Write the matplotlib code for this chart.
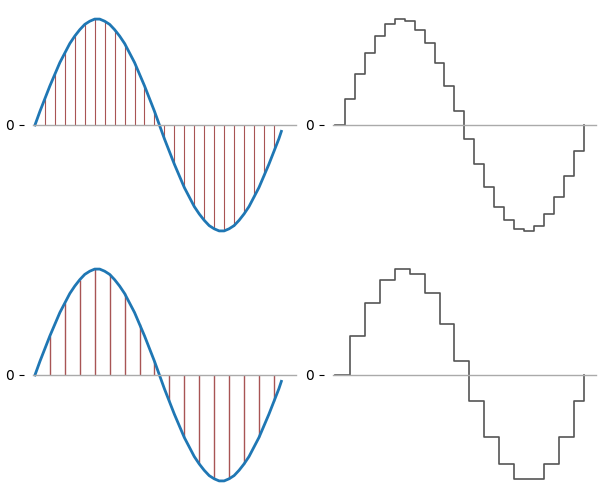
import matplotlib
matplotlib.use("Agg")
import matplotlib.pyplot as plt
import numpy as np

# continuous signal, read every 0.02 (plus the last point at 0.99)
curve_t = list(np.round(np.arange(0, 1.0, 0.02), 2)) + [0.99]
curve_y = [0.00, 0.13, 0.25, 0.37, 0.48, 0.59, 0.68, 0.77, 0.84, 0.90,
           0.95, 0.98, 1.00, 1.00, 0.98, 0.95, 0.90, 0.84, 0.77, 0.68,
           0.59, 0.48, 0.37, 0.25, 0.13, 0.00, -0.13, -0.25, -0.37, -0.48,
           -0.59, -0.68, -0.77, -0.84, -0.90, -0.95, -0.98, -1.00, -1.00, -0.98,
           -0.95, -0.90, -0.84, -0.77, -0.68, -0.59, -0.48, -0.37, -0.25, -0.13,
           -0.06]

# fine sampling (every 0.04), closed with a zero at t=1
fine_t = [0.00, 0.04, 0.08, 0.12, 0.16, 0.20, 0.24, 0.28, 0.32, 0.36, 0.40, 0.44, 0.48,
          0.52, 0.56, 0.60, 0.64, 0.68, 0.72, 0.76, 0.80, 0.84, 0.88, 0.92, 0.96, 1.00]
fine_y = [0.00, 0.25, 0.48, 0.68, 0.84, 0.95, 1.00, 0.98, 0.90, 0.77, 0.59, 0.37, 0.13,
          -0.13, -0.37, -0.59, -0.77, -0.90, -0.98, -1.00, -0.95, -0.84, -0.68, -0.48, -0.25, 0.00]

# coarse sampling (every 0.06), closed with a zero at t=1
coarse_t = [0.00, 0.06, 0.12, 0.18, 0.24, 0.30, 0.36, 0.42, 0.48,
            0.54, 0.60, 0.66, 0.72, 0.78, 0.84, 0.90, 0.96, 1.00]
coarse_y = [0.00, 0.37, 0.68, 0.90, 1.00, 0.95, 0.77, 0.48, 0.13,
            -0.25, -0.59, -0.84, -0.98, -0.98, -0.84, -0.59, -0.25, 0.00]

fig = plt.figure(figsize=(6, 5), dpi=100)

def style(ax):
    ax.set_xlim(-0.008, 1.048)
    ax.set_ylim(-1.1, 1.1)
    for s in ['top', 'right']:
        ax.spines[s].set_visible(False)
    ax.spines['left'].set_position(('outward', 6.5))
    ax.spines['left'].set_visible(False)
    ax.spines['bottom'].set_position('zero')
    ax.spines['bottom'].set_color('#aaaaaa')
    ax.spines['bottom'].set_linewidth(1)
    ax.set_xticks([])
    ax.set_yticks([0])
    ax.tick_params(axis='y', labelsize=10)

rows = [(fine_t, fine_y, 0.8, 0.517), (coarse_t, coarse_y, 1.0, 0.017)]
for ts, ys, stem_lw, bottom in rows:
    ax1 = fig.add_axes([0.055, bottom, 0.438, 0.466])
    ax1.vlines(ts, 0, ys, color='#a85454', lw=stem_lw)
    ax1.plot(curve_t, curve_y, color='#1f77b4', lw=2)
    style(ax1)

    ax2 = fig.add_axes([0.555, bottom, 0.438, 0.466])
    ax2.step(ts, ys, where='post', color='#555555', lw=1.2)
    style(ax2)

fig.savefig('out.png', dpi=100)
